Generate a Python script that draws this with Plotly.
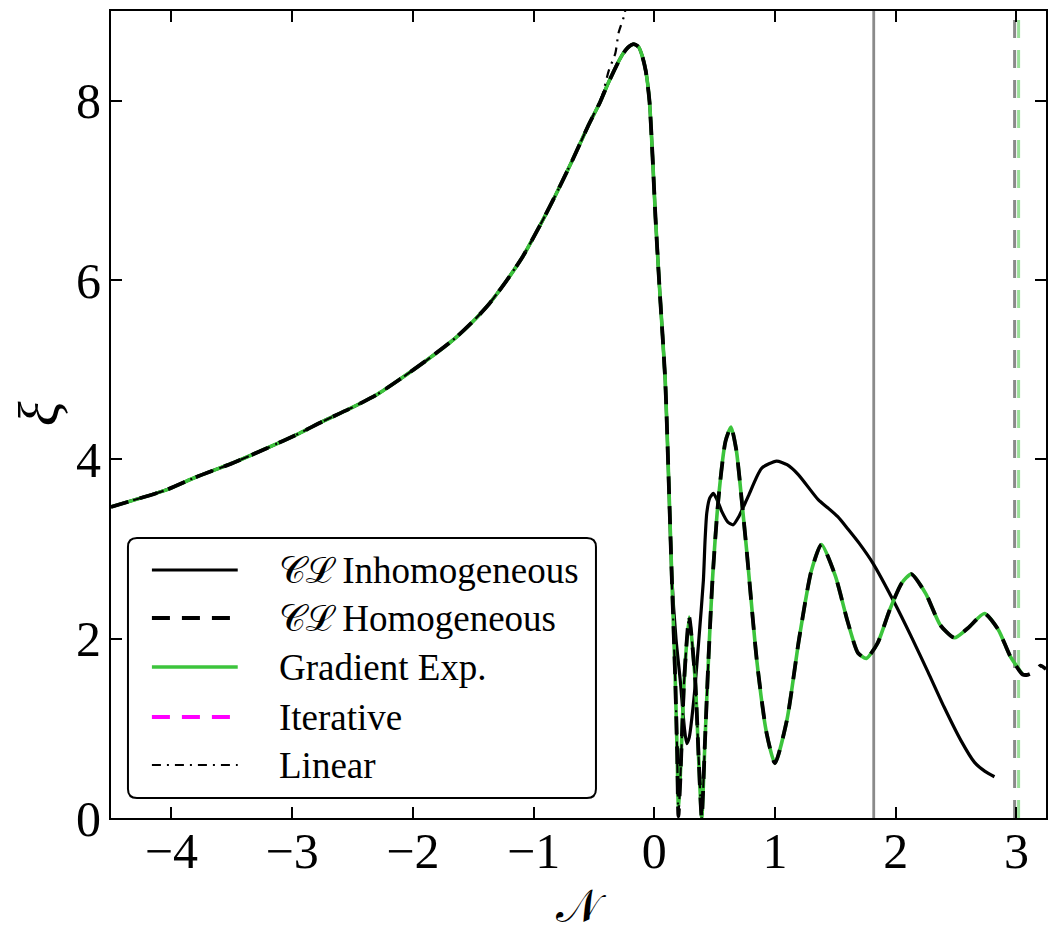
import plotly.graph_objects as go

# ---------------- data ----------------
# common rising branch (all curves coincide here)
left_x = [-4.50, -4.04, -3.80, -3.49, -3.20, -2.94, -2.75, -2.53, -2.30, -2.11, -1.88,
          -1.65, -1.50, -1.37, -1.23, -1.09, -0.95, -0.82, -0.68, -0.54, -0.45]
left_y = [3.47, 3.66, 3.80, 3.96, 4.13, 4.29, 4.42, 4.56, 4.72, 4.89, 5.11,
          5.35, 5.54, 5.73, 5.98, 6.26, 6.60, 6.94, 7.33, 7.74, 7.98]

# peak and steep fall (shared by inhomogeneous, homogeneous and gradient)
peak_x = [-0.38, -0.27, -0.22, -0.17, -0.13, -0.10, -0.07, -0.04, -0.015, 0.01, 0.042,
          0.091, 0.12, 0.145]
peak_y = [8.20, 8.50, 8.59, 8.63, 8.60, 8.50, 8.33, 8.00, 7.40, 6.70, 5.95,
          4.88, 3.75, 2.70]

# CL Inhomogeneous (solid black) after the fall
inhom_tail_x = [0.18, 0.215, 0.25, 0.269, 0.29, 0.33, 0.37, 0.407, 0.421, 0.435, 0.46, 0.49,
                0.52, 0.559, 0.61, 0.654, 0.70, 0.779, 0.889, 1.013, 1.10, 1.193, 1.358,
                1.437, 1.52, 1.606, 1.70, 1.812, 1.99, 2.13, 2.267, 2.40, 2.542, 2.653,
                2.74, 2.818]
inhom_tail_y = [2.00, 1.54, 1.00, 0.83, 0.90, 1.35, 2.00, 2.65, 3.10, 3.40, 3.57, 3.62,
                3.55, 3.42, 3.30, 3.27, 3.36, 3.59, 3.90, 3.98, 3.94, 3.83, 3.55,
                3.46, 3.36, 3.22, 3.06, 2.84, 2.40, 2.02, 1.63, 1.24, 0.86, 0.62,
                0.52, 0.46]

# Gradient expansion (solid green) after the fall
grad_tail_x = [0.174, 0.19, 0.20, 0.215, 0.248, 0.289, 0.339, 0.37, 0.393, 0.42, 0.45,
               0.482, 0.531, 0.59, 0.636, 0.68, 0.724, 0.765, 0.85, 0.93, 1.0, 1.1, 1.2,
               1.3, 1.385, 1.5, 1.6, 1.688, 1.757, 1.85, 1.95, 2.05, 2.129, 2.25, 2.37,
               2.487, 2.6, 2.735, 2.85, 2.95, 3.052]
grad_tail_y = [1.54, 0.70, 0.13, 0.45, 1.54, 2.24, 1.54, 0.60, 0.00, 0.85, 1.80,
               2.65, 3.55, 4.20, 4.36, 4.10, 3.55, 2.99, 1.75, 0.95, 0.61, 1.10, 2.00,
               2.75, 3.05, 2.70, 2.20, 1.84, 1.78, 1.95, 2.32, 2.62, 2.72, 2.50, 2.15,
               2.01, 2.12, 2.28, 2.10, 1.80, 1.60]

# CL Homogeneous (dashed black) after the fall
homog_tail_x = [0.174, 0.19, 0.20, 0.215, 0.248, 0.289, 0.339, 0.37, 0.393, 0.42, 0.45,
                0.482, 0.531, 0.59, 0.636, 0.68, 0.724, 0.765, 0.85, 0.93, 1.0, 1.1, 1.2,
                1.3, 1.385, 1.5, 1.6, 1.688, 1.757, 1.85, 1.95, 2.05, 2.129, 2.25, 2.37,
                2.487, 2.6, 2.735, 2.85, 2.95, 3.052, 3.10, 3.16, 3.20, 3.245]
homog_tail_y = [1.54, 0.70, 0.02, 0.40, 1.54, 2.24, 1.54, 0.60, 0.00, 0.85, 1.80,
                2.65, 3.55, 4.20, 4.36, 4.10, 3.55, 2.99, 1.75, 0.95, 0.61, 1.10, 2.00,
                2.75, 3.05, 2.70, 2.20, 1.84, 1.78, 1.95, 2.32, 2.62, 2.72, 2.50, 2.15,
                2.01, 2.12, 2.28, 2.10, 1.80, 1.60, 1.60, 1.64, 1.70, 1.66]

# Linear (dash-dot black): departs upward before the peak, reappears in the first dips
linear_up_x = [-0.433, -0.378, -0.322, -0.295, -0.245, -0.22]
linear_up_y = [8.05, 8.33, 8.53, 8.76, 8.97, 9.30]
linear_dip_x = [0.145, 0.174, 0.19, 0.20, 0.215, 0.248, 0.289, 0.339, 0.37, 0.393, 0.42, 0.45]
linear_dip_y = [2.65, 1.54, 0.70, 0.02, 0.40, 1.54, 2.24, 1.54, 0.60, 0.00, 0.85, 1.80]

vline_solid_x = 1.818
vline_dash_gray_x = 2.985
vline_dash_green_x = 3.018

x_ticks = [-4, -3, -2, -1, 0, 1, 2, 3]
y_ticks = [0, 2, 4, 6, 8]
x_range = [-4.5, 3.245]
y_range = [0, 9]

legend_labels = ["\U0001D49E\u2112 Inhomogeneous", "\U0001D49E\u2112 Homogeneous",
                 "Gradient Exp.", "Iterative", "Linear"]

# ---------------- series assembly ----------------
inhom_x = left_x + peak_x + inhom_tail_x
inhom_y = left_y + peak_y + inhom_tail_y
grad_x = left_x + peak_x + grad_tail_x
grad_y = left_y + peak_y + grad_tail_y
homog_x = left_x + peak_x + homog_tail_x
homog_y = left_y + peak_y + homog_tail_y
lin_first = left_x.index(-0.54)
linear_x = left_x[:lin_first + 1] + linear_up_x + [None] + linear_dip_x
linear_y = left_y[:lin_first + 1] + linear_up_y + [None] + linear_dip_y

# ---------------- styles ----------------
GREEN = "#3cc43c"
FONT = "Liberation Serif"
DASH = "18px,12px"
DASHDOT = "9px,6px,2px,6px"

fig = go.Figure()

def add_line(x, y, color, width, dash="solid"):
    fig.add_trace(go.Scatter(x=x, y=y, mode="lines",
                             line=dict(color=color, width=width, dash=dash,
                                       shape="spline", smoothing=0.6),
                             connectgaps=False, hoverinfo="skip", showlegend=False))

# vertical reference lines
fig.add_trace(go.Scatter(x=[vline_solid_x, vline_solid_x], y=y_range, mode="lines",
                         line=dict(color="#8a8a8a", width=2.8), showlegend=False))
fig.add_trace(go.Scatter(x=[vline_dash_gray_x, vline_dash_gray_x], y=y_range, mode="lines",
                         line=dict(color="#8a8a8a", width=3, dash=DASH), showlegend=False))
fig.add_trace(go.Scatter(x=[vline_dash_green_x, vline_dash_green_x], y=y_range, mode="lines",
                         line=dict(color="#9be09b", width=3, dash=DASH), showlegend=False))

add_line(inhom_x, inhom_y, "black", 3.2)
add_line(grad_x, grad_y, GREEN, 3.6)
add_line(homog_x, homog_y, "black", 3.8, DASH)
add_line(linear_x, linear_y, "black", 2.2, DASHDOT)

# ---------------- axes ----------------
PL, PR, PT, PB = 111, 1048, 11, 818
fig.update_layout(width=1048, height=934,
                  margin=dict(l=PL, r=1048 - PR, t=PT, b=934 - PB, pad=0),
                  plot_bgcolor="white", paper_bgcolor="white", showlegend=False,
                  font=dict(family=FONT, color="black"))
axis_common = dict(ticks="inside", ticklen=11, tickwidth=1.5, tickcolor="black",
                   showline=True, linewidth=2, linecolor="black", mirror="allticks",
                   showgrid=False, zeroline=False, tickfont=dict(size=50, family=FONT))
fig.update_xaxes(range=x_range, tickvals=x_ticks, ticklabelstandoff=-12, **axis_common)
fig.update_yaxes(range=y_range, tickvals=y_ticks, ticklabelstandoff=-2, **axis_common)

def px(x):
    return (x - PL) / (PR - PL)

def py(y):
    return (PB - y) / (PB - PT)

# axis titles
fig.add_annotation(text="\U0001D4A9", xref="paper", yref="paper", x=px(583), y=py(906),
                   showarrow=False, font=dict(size=46, family=FONT), xanchor="center",
                   yanchor="middle")
fig.add_annotation(text="<i>ξ</i>", xref="paper", yref="paper", x=px(38), y=py(414),
                   showarrow=False, font=dict(size=58, family=FONT), textangle=-90,
                   xanchor="center", yanchor="middle")

# ---------------- legend (drawn manually) ----------------
bx0, by0, bx1, by1, r = 128, 538, 597, 798, 9
path = (f"M{px(bx0 + r)},{py(by0)} L{px(bx1 - r)},{py(by0)} "
        f"Q{px(bx1)},{py(by0)} {px(bx1)},{py(by0 + r)} "
        f"L{px(bx1)},{py(by1 - r)} Q{px(bx1)},{py(by1)} {px(bx1 - r)},{py(by1)} "
        f"L{px(bx0 + r)},{py(by1)} Q{px(bx0)},{py(by1)} {px(bx0)},{py(by1 - r)} "
        f"L{px(bx0)},{py(by0 + r)} Q{px(bx0)},{py(by0)} {px(bx0 + r)},{py(by0)} Z")
fig.add_shape(type="path", path=path, xref="paper", yref="paper",
              line=dict(color="black", width=2), fillcolor="white", layer="above")

row_y = [570, 618, 667, 717, 765]
row_styles = [("black", 3.2, "solid"), ("black", 3.8, DASH), (GREEN, 3.6, "solid"),
              ("#ff00ff", 3.8, DASH), ("black", 2.2, DASHDOT)]
for label, yy, (c, w, d) in zip(legend_labels, row_y, row_styles):
    fig.add_shape(type="line", xref="paper", yref="paper", x0=px(152), x1=px(238),
                  y0=py(yy), y1=py(yy), line=dict(color=c, width=w, dash=d), layer="above")
    fig.add_annotation(text=label, xref="paper", yref="paper", x=px(277), y=py(yy),
                       xanchor="left", yanchor="middle", showarrow=False,
                       font=dict(size=37, family=FONT, color="black"))

fig.write_html("out.html")
